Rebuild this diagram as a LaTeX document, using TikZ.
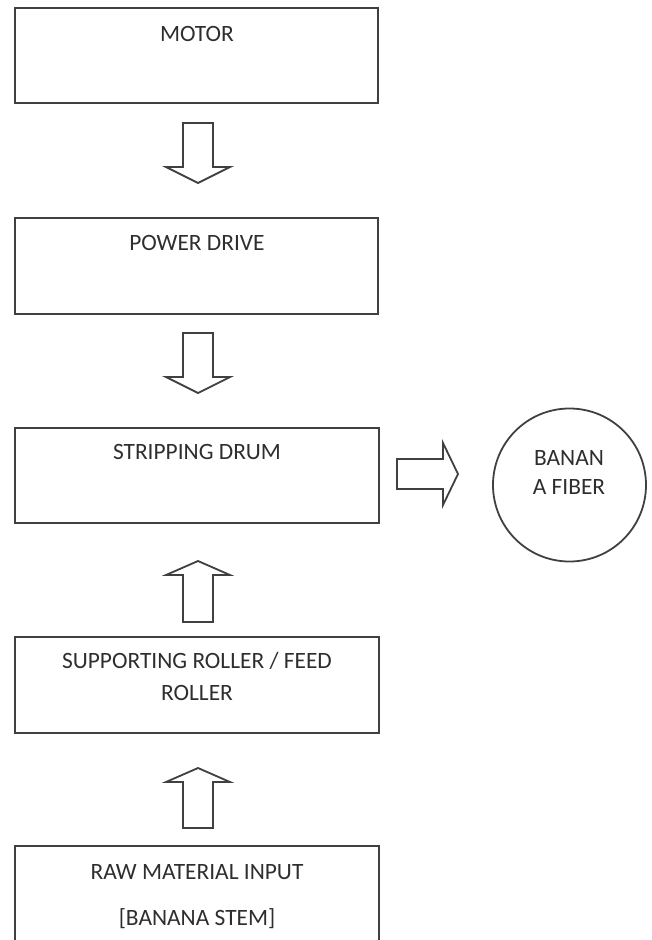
\documentclass[tikz,border=0pt]{standalone}
\usepackage{fontspec}
\setmainfont{Carlito}
\definecolor{linegray}{HTML}{404040}
\definecolor{textgray}{HTML}{2E2E2E}
\begin{document}
\begin{tikzpicture}[x=1pt,y=-1pt,
  box/.style={draw=linegray, line width=2.2pt, rectangle, inner sep=0pt},
  lbl/.style={anchor=base, inner sep=0pt, text=textgray, font=\fontsize{23.4}{28}\selectfont},
  barrow/.style={draw=linegray, line width=1.8pt, line join=miter, fill=white}]
\useasboundingbox (0,0) rectangle (652,940);
\clip (0,0) rectangle (652,940);
% boxes
\node[box, minimum width=363pt, minimum height=95pt] (motor) at (196.5,55.5) {};
\node[box, minimum width=363pt, minimum height=96pt] (power) at (196.5,266) {};
\node[box, minimum width=364pt, minimum height=95pt] (drum) at (197,475.5) {};
\node[box, minimum width=364pt, minimum height=96pt] (support) at (197,685) {};
\node[box, minimum width=364pt, minimum height=140pt] (raw) at (197,916) {};
\node[draw=linegray, line width=1.8pt, circle, minimum size=153pt, inner sep=0pt] (fiber) at (569.5,485) {};
% labels
\node[lbl] (tmotor) at (197,41.5) {MOTOR};
\node[lbl] (tpower) at (197,250.5) {POWER DRIVE};
\node[lbl] (tdrum) at (197,459.5) {STRIPPING DRUM};
\node[lbl] (tsup1) at (197,668.5) {SUPPORTING ROLLER / FEED};
\node[lbl] (tsup2) at (197,700.5) {ROLLER};
\node[lbl] (traw1) at (197,879.5) {RAW MATERIAL INPUT};
\node[lbl] (traw2) at (197,925.5) {[BANANA STEM]};
\node[lbl] (tfib1) at (569,465.5) {BANAN};
\node[lbl] (tfib2) at (569,494.5) {A FIBER};
% block arrows
\draw[barrow] (183,123) -- (213,123) -- (213,167) -- (230,167) -- (198,183) -- (166,167) -- (183,167) -- cycle;
\draw[barrow] (183,333) -- (213,333) -- (213,377) -- (230,377) -- (198,393) -- (166,377) -- (183,377) -- cycle;
\draw[barrow] (397,459) -- (443,459) -- (443,443) -- (458,474) -- (443,505) -- (443,489) -- (397,489) -- cycle;
\draw[barrow] (183,622) -- (213,622) -- (213,575) -- (230,575) -- (198,561) -- (166,575) -- (183,575) -- cycle;
\draw[barrow] (183,828) -- (213,828) -- (213,782) -- (230,782) -- (198,768) -- (166,782) -- (183,782) -- cycle;
\end{tikzpicture}
\end{document}
